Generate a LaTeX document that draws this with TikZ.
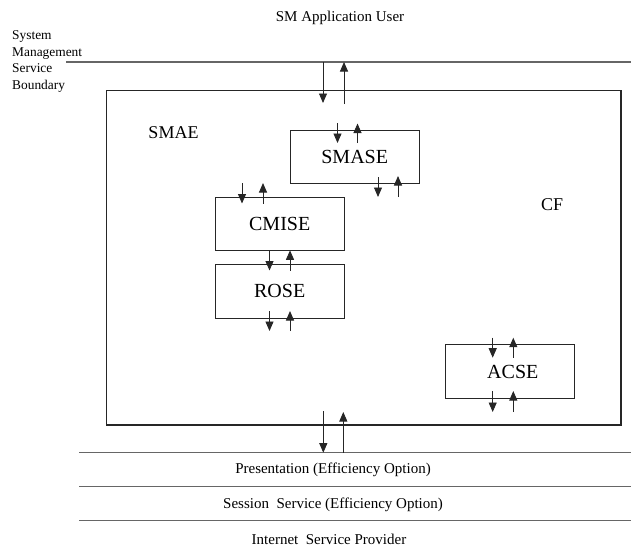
\documentclass[tikz,border=0pt]{standalone}
\usepackage{fontspec}
\setmainfont{Liberation Serif}
\usetikzlibrary{arrows.meta}
\begin{document}
\begin{tikzpicture}[x=1pt,y=-1pt,
  box/.style={draw=black!85, line width=1.1pt, inner sep=0pt, outer sep=0pt,
    minimum width=128.7pt, minimum height=53.3pt, font=\fontsize{20}{24}\selectfont},
  layerline/.style={draw=black!60, line width=1.2pt},
  sig/.style={draw=black!85, line width=0.9pt, -{Triangle[width=8pt,length=9.5pt]}},
  smalltext/.style={font=\fontsize{15}{18}\selectfont, inner sep=0pt},
  sidetext/.style={font=\fontsize{13.4}{16.5}\selectfont, inner sep=0pt, align=left},
  midtext/.style={font=\fontsize{18}{21}\selectfont, inner sep=0pt}]
\useasboundingbox (0,0) rectangle (631,547);

% boundary and layer lines
\coordinate (bL) at (66,62);   \coordinate (bR) at (631,62);
\coordinate (l1L) at (79,452.7); \coordinate (l1R) at (631,452.7);
\coordinate (l2L) at (79,486.7); \coordinate (l2R) at (631,486.7);
\coordinate (l3L) at (79,520.7); \coordinate (l3R) at (631,520.7);
\draw[layerline] (bL) -- (bR);
\draw[layerline] (l1L) -- (l1R);
\draw[layerline] (l2L) -- (l2R);
\draw[layerline] (l3L) -- (l3R);

% outer SMAE box
\node[draw=black!85, line width=1.1pt, inner sep=0pt, outer sep=0pt,
  minimum width=514.5pt, minimum height=334.3pt] (smae) at (363.75,257.85) {};

% inner boxes
\node[box] (smase) at (354.7,156.7) {SMASE};
\node[box] (cmise) at (279.7,223.8) {CMISE};
\node[box, minimum height=53.7pt] (rose) at (279.7,291.2) {ROSE};
\node[box, minimum height=53.6pt] (acse) at (509.8,371.5) {\hspace*{6pt}ACSE};

% texts
\node[smalltext] (user) at (340,18) {SM Application User};
\node[sidetext, anchor=west] (sb) at (12,61.5) {System\\Management\\Service\\Boundary};
\node[midtext] (smaelbl) at (173.5,133) {SMAE};
\node[midtext] (cf) at (552,205) {CF};
\node[smalltext] (pres) at (333,470) {Presentation (Efficiency Option)};
\node[smalltext] (sess) at (333,504.5) {Session\ \ Service (Efficiency Option)};
\node[smalltext] (isp) at (329,539) {Internet\ \ Service Provider};

% signal arrows: top boundary <-> SMAE
\coordinate (a1s) at (323,62);   \coordinate (a1e) at (323,103);
\coordinate (a2s) at (344,104);  \coordinate (a2e) at (344,62);
\draw[sig] (a1s) -- (a1e); \draw[sig] (a2s) -- (a2e);
% SMASE top
\coordinate (b1s) at (337.5,123); \coordinate (b1e) at (337.5,143);
\coordinate (b2s) at (357.5,143); \coordinate (b2e) at (357.5,123.5);
\draw[sig] (b1s) -- (b1e); \draw[sig] (b2s) -- (b2e);
% SMASE bottom
\coordinate (c1s) at (378,177); \coordinate (c1e) at (378,197);
\coordinate (c2s) at (398,197); \coordinate (c2e) at (398,176);
\draw[sig] (c1s) -- (c1e); \draw[sig] (c2s) -- (c2e);
% CMISE top
\coordinate (d1s) at (242,183); \coordinate (d1e) at (242,203.5);
\coordinate (d2s) at (263,203.5); \coordinate (d2e) at (263,183);
\draw[sig] (d1s) -- (d1e); \draw[sig] (d2s) -- (d2e);
% CMISE <-> ROSE
\coordinate (e1s) at (269.5,250.3); \coordinate (e1e) at (269.5,270.5);
\coordinate (e2s) at (290,270.5); \coordinate (e2e) at (290,250.3);
\draw[sig] (e1s) -- (e1e); \draw[sig] (e2s) -- (e2e);
% ROSE bottom
\coordinate (f1s) at (269.5,311); \coordinate (f1e) at (269.5,331);
\coordinate (f2s) at (290,331); \coordinate (f2e) at (290,311);
\draw[sig] (f1s) -- (f1e); \draw[sig] (f2s) -- (f2e);
% ACSE top
\coordinate (g1s) at (492.7,337.7); \coordinate (g1e) at (492.7,357.7);
\coordinate (g2s) at (513.3,357.7); \coordinate (g2e) at (513.3,337.7);
\draw[sig] (g1s) -- (g1e); \draw[sig] (g2s) -- (g2e);
% ACSE bottom
\coordinate (h1s) at (492.7,391); \coordinate (h1e) at (492.7,412);
\coordinate (h2s) at (513.3,412); \coordinate (h2e) at (513.3,391);
\draw[sig] (h1s) -- (h1e); \draw[sig] (h2s) -- (h2e);
% SMAE <-> presentation
\coordinate (k1s) at (323.3,411); \coordinate (k1e) at (323.3,452.7);
\coordinate (k2s) at (343.3,452.7); \coordinate (k2e) at (343.3,412);
\draw[sig] (k1s) -- (k1e); \draw[sig] (k2s) -- (k2e);
\end{tikzpicture}
\end{document}
